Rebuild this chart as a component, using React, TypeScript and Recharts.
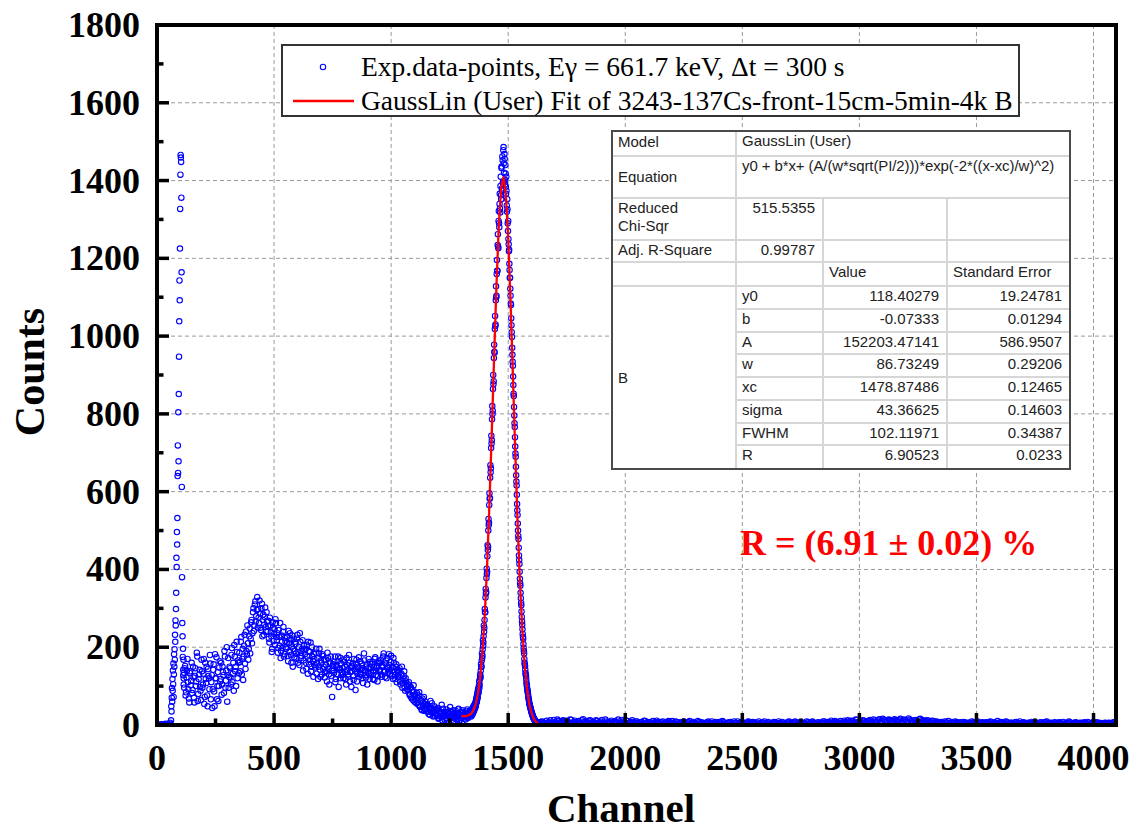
import { ScatterChart, Scatter, XAxis, YAxis, CartesianGrid } from 'recharts'

// channel blocks: counts with their start channel and step
const LOW_START = 0
const LOW_STEP = 4
const LOW_COUNTS = [0, 0, 1, 0, 0, 2, 0, 1, 0, 3, 1, 0, 2, 4, 6]

const SPIKE_START = 60
const SPIKE_STEP = 1
const SPIKE_COUNTS = [
  12, 48, 35, 70, 95, 60, 118, 88, 140, 105, 158, 72, 130, 182, 150, 195, 168, 232,
  214, 269, 256, 298, 340, 430, 406, 496, 464, 532, 640, 719, 648, 804, 678, 851,
  947, 1038, 1143, 1092, 1225, 1327, 1415, 1466, 1459, 1448, 1356, 1164,
  612, 380, 262, 228, 175, 196, 142, 168, 120, 135,
]

const CONT_A_START = 112
const CONT_B_START = 114
const CONT_STEP = 4
const CONT_A_COUNTS = [
  128, 96, 152, 84, 140, 110, 68, 134, 102, 160,
  90, 122, 58, 146, 112, 176, 80, 130, 98, 64,
  138, 104, 170, 72, 118, 150, 48, 126, 92, 158,
  110, 44, 142, 86, 182, 120, 66, 136, 100, 164,
  118, 78, 150, 128, 190, 96, 140, 60, 172, 124,
  146, 104, 198, 132, 88, 176, 150, 214, 120, 160,
  186, 138, 226, 170, 116, 204, 158, 240, 182, 210,
  196, 248, 222, 270, 236, 300, 256, 318, 280, 329,
  298, 262, 286, 244, 312, 270, 232, 278, 252, 290,
  240, 268, 212, 256, 228, 196, 250, 234, 206, 262,
  218, 186, 244, 204, 172, 230, 198, 252, 182, 216,
  196, 226, 164, 210, 236, 180, 202, 150, 222, 190,
  208, 170, 232, 188, 154, 214, 178, 196, 140, 204,
  182, 160, 206, 132, 190, 168, 212, 150, 176, 124,
  170, 148, 196, 158, 118, 184, 142, 166, 130, 178,
  150, 122, 168, 138, 186, 144, 104, 160, 126, 72,
  156, 134, 176, 118, 148, 164, 98, 142, 172, 128,
  146, 120, 162, 136, 104, 154, 130, 180, 112, 148,
  138, 158, 116, 144, 90, 168, 132, 150, 124, 164,
  130, 146, 108, 184, 140, 122, 156, 134, 170, 118,
  148, 128, 162, 140, 116, 174, 138, 152, 126, 160,
  142, 168, 124, 150, 184, 136, 158, 120, 172, 146,
  154, 132, 178, 140, 118, 160, 128, 150, 110, 136,
  124, 146, 104, 132, 96, 118, 138, 88, 112, 100,
  92, 110, 76, 98, 68, 84, 102, 60, 78, 56,
  70, 52, 84, 46, 64, 38, 58, 72, 42, 54,
  36, 50, 28, 44, 62, 32, 40, 22, 48, 30,
  38, 24, 44, 18, 34, 28, 52, 20, 32, 14,
  26, 40, 12, 30, 22, 46, 18, 34, 8, 28,
  20, 36, 14, 26, 42, 10, 30, 18, 38, 24,
  16, 32, 22, 40, 18, 30, 26,
]
const CONT_B_COUNTS = [
  104, 146, 76, 122, 170, 92, 58, 138, 114, 82,
  150, 70, 126, 100, 186, 62, 118, 142, 88, 168,
  96, 132, 54, 160, 108, 76, 144, 120, 180, 66,
  128, 92, 156, 48, 120, 174, 100, 62, 148, 112,
  160, 104, 136, 82, 176, 114, 200, 128, 96, 150,
  122, 180, 110, 160, 206, 138, 100, 188, 166, 134,
  162, 214, 130, 196, 176, 232, 144, 190, 256, 168,
  228, 184, 264, 210, 290, 242, 310, 266, 296, 250,
  276, 320, 250, 300, 228, 284, 258, 302, 240, 266,
  254, 222, 276, 238, 188, 264, 216, 246, 272, 226,
  236, 198, 226, 262, 190, 214, 240, 176, 224, 200,
  212, 178, 242, 188, 220, 160, 230, 196, 174, 214,
  184, 222, 160, 200, 236, 172, 190, 218, 166, 192,
  196, 144, 176, 214, 156, 188, 138, 200, 164, 182,
  154, 186, 132, 172, 150, 196, 124, 160, 182, 144,
  168, 136, 154, 112, 172, 130, 158, 176, 140, 152,
  140, 162, 110, 154, 130, 176, 146, 120, 158, 136,
  130, 168, 150, 118, 172, 142, 124, 160, 136, 98,
  152, 126, 170, 138, 156, 112, 146, 174, 130, 142,
  158, 120, 142, 166, 128, 150, 104, 146, 132, 162,
  134, 156, 118, 150, 170, 128, 146, 112, 164, 138,
  160, 130, 152, 176, 140, 124, 166, 148, 134, 182,
  140, 162, 126, 148, 172, 136, 118, 156, 142, 124,
  140, 112, 128, 150, 108, 126, 96, 120, 104, 90,
  104, 80, 96, 72, 90, 64, 86, 74, 66, 82,
  58, 76, 48, 62, 40, 68, 50, 36, 60, 44,
  52, 34, 46, 26, 40, 56, 30, 38, 24, 42,
  28, 40, 16, 36, 22, 30, 12, 42, 26, 34,
  18, 32, 24, 4, 36, 20, 28, 14, 38, 22,
  30, 16, 26, 40, 12, 32, 22, 6, 34, 20,
  28, 14, 36, 24, 20, 34, 30,
]

const PEAK_A_START = 1340
const PEAK_B_START = 1341
const PEAK_STEP = 2
const PEAK_A_COUNTS = [
  34, 22, 40, 26, 44, 30, 48, 36, 52, 42,
  58, 48, 70, 60, 82, 72, 94, 86, 112, 104,
  130, 122, 156, 150, 184, 178, 218, 212, 256, 250,
  298, 290, 350, 342, 402, 394, 462, 458, 530, 520,
  596, 584, 668, 660, 744, 732, 820, 808, 900, 884,
  978, 958, 1052, 1030, 1128, 1104, 1196, 1168, 1262, 1226,
  1322, 1280, 1366, 1318, 1410, 1352, 1436, 1380, 1452, 1396,
  1486, 1420, 1468, 1402, 1440, 1384, 1410, 1336, 1352, 1290,
  1296, 1236, 1222, 1170, 1150, 1104, 1080, 1028, 998, 952,
  924, 874, 846, 796, 766, 716, 690, 642, 616, 568,
  540, 500, 478, 436, 414, 376, 358, 326, 308, 278,
  258, 234, 222, 198, 184, 160, 152, 134, 126, 110,
  100, 90, 84, 72, 66, 56, 52, 46, 42, 36,
  32, 28, 25, 22, 18, 16, 14, 12, 10, 9,
  8, 7, 6, 5, 4, 3, 6, 2, 8, 4,
]
const PEAK_B_COUNTS = [
  26, 38, 30, 42, 34, 46, 38, 50, 44, 56,
  52, 64, 58, 76, 68, 90, 82, 100, 96, 118,
  126, 140, 150, 166, 172, 194, 204, 228, 240, 270,
  290, 328, 338, 378, 388, 434, 450, 500, 514, 566,
  582, 636, 650, 712, 724, 786, 800, 864, 876, 944,
  960, 1018, 1026, 1092, 1100, 1160, 1168, 1234, 1230, 1296,
  1290, 1340, 1328, 1386, 1362, 1432, 1376, 1462, 1394, 1478,
  1444, 1398, 1456, 1390, 1418, 1366, 1374, 1320, 1326, 1270,
  1250, 1218, 1186, 1150, 1122, 1084, 1046, 1010, 970, 934,
  896, 852, 818, 776, 740, 698, 664, 626, 592, 552,
  518, 486, 456, 424, 394, 364, 340, 314, 292, 266,
  246, 226, 208, 190, 170, 156, 142, 130, 118, 104,
  94, 86, 78, 68, 62, 54, 48, 44, 40, 35,
  31, 27, 23, 20, 17, 15, 13, 11, 9, 8,
  7, 6, 5, 4, 6, 3, 5, 2, 7, 3,
]

const TAIL_A_START = 1640
const TAIL_B_START = 1645
const TAIL_STEP = 10
const TAIL_A_COUNTS = [
  8, 3, 9, 5, 12, 4, 8, 14, 6, 10,
  7, 11, 5, 13, 8, 4, 10, 6, 15, 9,
  5, 12, 8, 3, 10, 7, 13, 6, 9, 4,
  11, 6, 8, 14, 5, 9, 3, 10, 7, 12,
  6, 9, 4, 8, 11, 5, 7, 3, 10, 6,
  8, 4, 9, 6, 2, 7, 10, 5, 8, 3,
  6, 9, 4, 7, 3, 8, 5, 10, 4, 6,
  3, 7, 5, 9, 2, 6, 8, 4, 7, 3,
  5, 8, 3, 6, 9, 4, 7, 2, 6, 8,
  4, 7, 3, 9, 5, 6, 2, 8, 4, 6,
  7, 3, 5, 8, 4, 6, 9, 3, 5, 7,
  4, 8, 6, 3, 7, 5, 9, 4, 6, 2,
  6, 9, 5, 7, 11, 4, 8, 6, 10, 5,
  8, 12, 6, 10, 7, 13, 9, 5, 11, 8,
  10, 6, 14, 8, 12, 7, 16, 9, 11, 13,
  8, 15, 10, 12, 7, 14, 9, 17, 11, 8,
  13, 9, 16, 10, 7, 12, 8, 11, 6, 9,
  5, 8, 4, 7, 10, 3, 6, 9, 5, 7,
  4, 7, 3, 6, 9, 5, 8, 4, 6, 3,
  7, 5, 9, 4, 6, 10, 3, 7, 5, 8,
  4, 6, 3, 8, 5, 2, 7, 4, 6, 3,
  5, 8, 4, 6, 3, 7, 9, 4, 5, 6,
  3, 6, 4, 8, 2, 5, 7, 3, 6, 4,
  5, 3, 7, 4, 6, 2, 8, 4, 3, 5,
  4, 6, 2, 5, 3, 6,
]
const TAIL_B_COUNTS = [
  9, 5, 11, 7, 4, 13, 6, 10, 8, 12,
  5, 9, 14, 6, 11, 7, 3, 12, 8, 10,
  11, 4, 7, 12, 6, 9, 5, 14, 7, 8,
  6, 10, 4, 9, 13, 7, 11, 5, 8, 6,
  9, 5, 7, 3, 10, 8, 4, 9, 6, 11,
  5, 7, 3, 8, 10, 4, 6, 9, 3, 7,
  8, 4, 7, 10, 5, 6, 3, 8, 7, 4,
  6, 9, 4, 5, 8, 3, 7, 10, 4, 6,
  7, 4, 9, 5, 3, 8, 6, 4, 9, 5,
  8, 5, 6, 3, 7, 9, 4, 6, 3, 8,
  5, 9, 4, 6, 3, 8, 5, 7, 9, 4,
  7, 3, 5, 9, 4, 8, 6, 3, 7, 5,
  9, 6, 8, 4, 7, 10, 6, 9, 5, 11,
  6, 9, 11, 7, 14, 8, 10, 12, 7, 9,
  13, 8, 11, 9, 15, 10, 12, 8, 14, 10,
  11, 13, 9, 16, 10, 12, 8, 14, 10, 12,
  10, 14, 8, 12, 9, 11, 7, 10, 8, 6,
  7, 5, 9, 6, 4, 8, 5, 7, 3, 6,
  8, 5, 6, 4, 7, 3, 9, 5, 7, 4,
  5, 8, 4, 7, 3, 6, 8, 5, 9, 4,
  6, 3, 7, 5, 9, 4, 6, 3, 5, 8,
  4, 6, 3, 7, 5, 8, 4, 6, 2, 7,
  5, 7, 4, 3, 6, 9, 4, 5, 7, 3,
  6, 4, 5, 8, 3, 6, 4, 7, 5, 2,
  5, 3, 6, 4, 7, 3,
]

// GaussLin fit curve
const FIT_CHANNELS = [
  1300, 1310, 1320, 1330, 1340, 1350, 1360, 1370, 1380, 1390, 1400, 1410, 1420, 1430, 1440, 1450,
  1460, 1470, 1480, 1490, 1500, 1510, 1520, 1530, 1540, 1550, 1560, 1570, 1580, 1590, 1600, 1610,
  1620, 1630, 1640,
]
const FIT_COUNTS = [
  23, 23, 23, 25, 28, 36, 51, 78, 121, 188, 283, 411, 571, 755, 949, 1133,
  1285, 1381, 1410, 1364, 1252, 1090, 901, 706, 524, 370, 248, 157, 95, 54, 30, 15,
  7, 2, 0,
]

const X_MAX = 4096
const Y_MAX = 1800
const X_MAJOR = [0, 500, 1000, 1500, 2000, 2500, 3000, 3500, 4000]
const Y_MAJOR = [0, 200, 400, 600, 800, 1000, 1200, 1400, 1600, 1800]
const X_TICKS = [0, 250, 500, 750, 1000, 1250, 1500, 1750, 2000, 2250, 2500, 2750, 3000, 3250, 3500, 3750, 4000]
const Y_TICKS = [0, 100, 200, 300, 400, 500, 600, 700, 800, 900, 1000, 1100, 1200, 1300, 1400, 1500, 1600, 1700, 1800]

const TABLE_ROWS = [
  ['y0', '118.40279', '19.24781'],
  ['b', '-0.07333', '0.01294'],
  ['A', '152203.47141', '586.9507'],
  ['w', '86.73249', '0.29206'],
  ['xc', '1478.87486', '0.12465'],
  ['sigma', '43.36625', '0.14603'],
  ['FWHM', '102.11971', '0.34387'],
  ['R', '6.90523', '0.0233'],
]

function block(counts: number[], start: number, step: number) {
  return counts.map((c, i) => ({ ch: start + i * step, counts: c }))
}

const points = [
  ...block(LOW_COUNTS, LOW_START, LOW_STEP),
  ...block(SPIKE_COUNTS, SPIKE_START, SPIKE_STEP),
  ...block(CONT_A_COUNTS, CONT_A_START, CONT_STEP),
  ...block(CONT_B_COUNTS, CONT_B_START, CONT_STEP),
  ...block(PEAK_A_COUNTS, PEAK_A_START, PEAK_STEP),
  ...block(PEAK_B_COUNTS, PEAK_B_START, PEAK_STEP),
  ...block(TAIL_A_COUNTS, TAIL_A_START, TAIL_STEP),
  ...block(TAIL_B_COUNTS, TAIL_B_START, TAIL_STEP),
]
const fit = FIT_CHANNELS.map((ch, i) => ({ ch, counts: FIT_COUNTS[i] }))

const SERIF = "'Liberation Serif', 'Times New Roman', serif"
const SANS = "'Liberation Sans', Arial, sans-serif"
const MAJ = 12
const MIN = 6.5
const TW = 3.5

// eslint-disable-next-line @typescript-eslint/no-explicit-any
function LeftTick({ x, y, payload }: any) {
  const major = Y_MAJOR.includes(payload.value)
  const len = major ? MAJ : MIN
  return (
    <g>
      <rect x={Number(x)} y={Number(y) - TW / 2} width={len} height={TW} fill="#000" />
      {major && (
        <text x={Number(x) - 17} y={y} textAnchor="end" dominantBaseline="central"
          fontFamily={SERIF} fontWeight="bold" fontSize={36} fill="#000">
          {payload.value}
        </text>
      )}
    </g>
  )
}

// eslint-disable-next-line @typescript-eslint/no-explicit-any
function RightTick({ x, y, payload }: any) {
  const len = Y_MAJOR.includes(payload.value) ? MAJ : MIN
  return <rect x={Number(x) - len} y={Number(y) - TW / 2} width={len} height={TW} fill="#000" />
}

// eslint-disable-next-line @typescript-eslint/no-explicit-any
function BottomTick({ x, y, payload }: any) {
  const major = X_MAJOR.includes(payload.value)
  const len = major ? MAJ : MIN
  return (
    <g>
      <rect x={Number(x) - TW / 2} y={Number(y) - len} width={TW} height={len} fill="#000" />
      {major && (
        <text x={x} y={Number(y) + 33} textAnchor="middle" dominantBaseline="central"
          fontFamily={SERIF} fontWeight="bold" fontSize={36} fill="#000">
          {payload.value}
        </text>
      )}
    </g>
  )
}

// eslint-disable-next-line @typescript-eslint/no-explicit-any
function TopTick({ x, y, payload }: any) {
  const len = X_MAJOR.includes(payload.value) ? MAJ : MIN
  return <rect x={Number(x) - TW / 2} y={Number(y)} width={TW} height={len} fill="#000" />
}

// grid lines follow the axis ticks (majors and minors alternate), keep only the majors
// eslint-disable-next-line @typescript-eslint/no-explicit-any
function GridLine(props: any) {
  if (typeof props.index === 'number' && props.index % 2 === 1) return <g />
  return (
    <line x1={props.x1} y1={props.y1} x2={props.x2} y2={props.y2}
      stroke="#9a9a9a" strokeWidth={1} strokeDasharray="4 3" />
  )
}

// eslint-disable-next-line @typescript-eslint/no-explicit-any
function Dot({ cx, cy }: any) {
  return <circle cx={cx} cy={cy} r={2.7} fill="none" stroke="#0000ff" strokeWidth={1.1} />
}

const NoDot = () => <g />

const axisLine = { stroke: '#000', strokeWidth: 4 }

const cell = (extra: React.CSSProperties = {}): React.CSSProperties => ({
  border: '2px solid #d6d6d6',
  padding: '0 5px',
  verticalAlign: 'top',
  lineHeight: '18px',
  whiteSpace: 'nowrap',
  overflow: 'hidden',
  ...extra,
})

export default function App() {
  return (
    <div style={{ position: 'absolute', left: 0, top: 0, width: 1139, height: 831, background: '#fff' }}>
      <ScatterChart width={1139} height={831} margin={{ top: 25, right: 23, bottom: 0, left: 0 }}>
        <CartesianGrid xAxisId="b" yAxisId="l" horizontal={<GridLine />} vertical={<GridLine />} />
        <Scatter data={points} xAxisId="b" yAxisId="l" shape={Dot} isAnimationActive={false} />
        <Scatter
          data={fit}
          xAxisId="b"
          yAxisId="l"
          shape={NoDot}
          line={{ stroke: '#ff0000', strokeWidth: 2.3 }}
          isAnimationActive={false}
        />
        <XAxis xAxisId="b" dataKey="ch" type="number" domain={[0, X_MAX]} allowDataOverflow
          ticks={X_TICKS} interval={0} height={106} tickSize={0} tickMargin={0} stroke="#000"
          axisLine={axisLine} tickLine={false} tick={<BottomTick />} />
        <XAxis xAxisId="t" orientation="top" dataKey="ch" type="number" domain={[0, X_MAX]} allowDataOverflow
          ticks={X_TICKS} interval={0} height={0} tickSize={0} tickMargin={0} stroke="#000"
          axisLine={axisLine} tickLine={false} tick={<TopTick />} />
        <YAxis yAxisId="l" dataKey="counts" type="number" domain={[0, Y_MAX]} allowDataOverflow
          ticks={Y_TICKS} interval={0} width={157} tickSize={0} tickMargin={0} stroke="#000"
          axisLine={axisLine} tickLine={false} tick={<LeftTick />} />
        <YAxis yAxisId="r" orientation="right" dataKey="counts" type="number" domain={[0, Y_MAX]} allowDataOverflow
          ticks={Y_TICKS} interval={0} width={0} tickSize={0} tickMargin={0} stroke="#000"
          axisLine={axisLine} tickLine={false} tick={<RightTick />} />
      </ScatterChart>

      {/* plot frame */}
      <div style={{ position: 'absolute', left: 155, top: 23, width: 963, height: 4, background: '#000' }} />
      <div style={{ position: 'absolute', left: 155, top: 723, width: 963, height: 4, background: '#000' }} />
      <div style={{ position: 'absolute', left: 155, top: 23, width: 4, height: 704, background: '#000' }} />
      <div style={{ position: 'absolute', left: 1114, top: 23, width: 4, height: 704, background: '#000' }} />

      {/* axis titles */}
      <div style={{
        position: 'absolute', left: 30, top: 372, transform: 'translate(-50%, -50%) rotate(-90deg)',
        fontFamily: SERIF, fontWeight: 'bold', fontSize: 42, lineHeight: 1, whiteSpace: 'nowrap',
      }}>
        Counts
      </div>
      <div style={{
        position: 'absolute', left: 621, top: 808, transform: 'translate(-50%, -50%)',
        fontFamily: SERIF, fontWeight: 'bold', fontSize: 41, lineHeight: 1, whiteSpace: 'nowrap',
      }}>
        Channel
      </div>

      {/* legend */}
      <div style={{
        position: 'absolute', left: 281, top: 44, width: 735, height: 69, border: '2px solid #333',
        background: '#fff', fontFamily: SERIF, fontSize: 27.5, color: '#000',
      }}>
        <svg width={72} height={69} style={{ position: 'absolute', left: 0, top: 0 }}>
          <circle cx={40} cy={21} r={2.7} fill="none" stroke="#0000ff" strokeWidth={1.1} />
          <line x1={10} y1={55} x2={71} y2={55} stroke="#ff0000" strokeWidth={2.3} />
        </svg>
        <div style={{ position: 'absolute', left: 78, top: 5, lineHeight: '32px', whiteSpace: 'nowrap' }}>
          Exp.data-points, Eγ = 661.7 keV, Δt = 300 s
        </div>
        <div style={{ position: 'absolute', left: 78, top: 39, lineHeight: '32px', whiteSpace: 'nowrap' }}>
          GaussLin (User) Fit of 3243-137Cs-front-15cm-5min-4k B
        </div>
      </div>

      {/* fit report table */}
      <div style={{
        position: 'absolute', left: 611, top: 130, width: 456, height: 336, border: '2px solid #4a4a4a',
        background: '#fff', fontFamily: SANS, fontSize: 15, color: '#222',
      }}>
        <table style={{
          borderCollapse: 'collapse', borderStyle: 'hidden', tableLayout: 'fixed', width: 456, height: 336,
        }}>
          <colgroup>
            <col style={{ width: 123 }} />
            <col style={{ width: 87 }} />
            <col style={{ width: 124 }} />
            <col style={{ width: 122 }} />
          </colgroup>
          <tbody>
            <tr style={{ height: 24 }}>
              <td style={cell({ paddingTop: 1 })}>Model</td>
              <td style={cell()} colSpan={3}>GaussLin (User)</td>
            </tr>
            <tr style={{ height: 42 }}>
              <td style={cell({ verticalAlign: 'middle' })}>Equation</td>
              <td style={cell({ letterSpacing: -0.1 })} colSpan={3}>
                y0 + b*x+ (A/(w*sqrt(PI/2)))*exp(-2*((x-xc)/w)^2)
              </td>
            </tr>
            <tr style={{ height: 42 }}>
              <td style={cell({ whiteSpace: 'normal' })}>Reduced<br />Chi-Sqr</td>
              <td style={cell({ textAlign: 'right', paddingRight: 7 })}>515.5355</td>
              <td style={cell()} />
              <td style={cell()} />
            </tr>
            <tr style={{ height: 22 }}>
              <td style={cell()}>Adj. R-Square</td>
              <td style={cell({ textAlign: 'right', paddingRight: 7 })}>0.99787</td>
              <td style={cell()} />
              <td style={cell()} />
            </tr>
            <tr style={{ height: 24 }}>
              <td style={cell()} />
              <td style={cell()} />
              <td style={cell()}>Value</td>
              <td style={cell()}>Standard Error</td>
            </tr>
            {TABLE_ROWS.map((r, i) => (
              <tr key={r[0]} style={{ height: 22.75 }}>
                {i === 0 && (
                  <td style={cell({ verticalAlign: 'middle' })} rowSpan={TABLE_ROWS.length}>B</td>
                )}
                <td style={cell()}>{r[0]}</td>
                <td style={cell({ textAlign: 'right', paddingRight: 7 })}>{r[1]}</td>
                <td style={cell({ textAlign: 'right', paddingRight: 7 })}>{r[2]}</td>
              </tr>
            ))}
          </tbody>
        </table>
      </div>

      {/* resolution annotation */}
      <div style={{
        position: 'absolute', left: 740, top: 525, fontFamily: SERIF, fontWeight: 'bold', fontSize: 36,
        lineHeight: '36px', color: '#ff0000', whiteSpace: 'nowrap',
      }}>
        R = (6.91 ± 0.02) %
      </div>
    </div>
  )
}
